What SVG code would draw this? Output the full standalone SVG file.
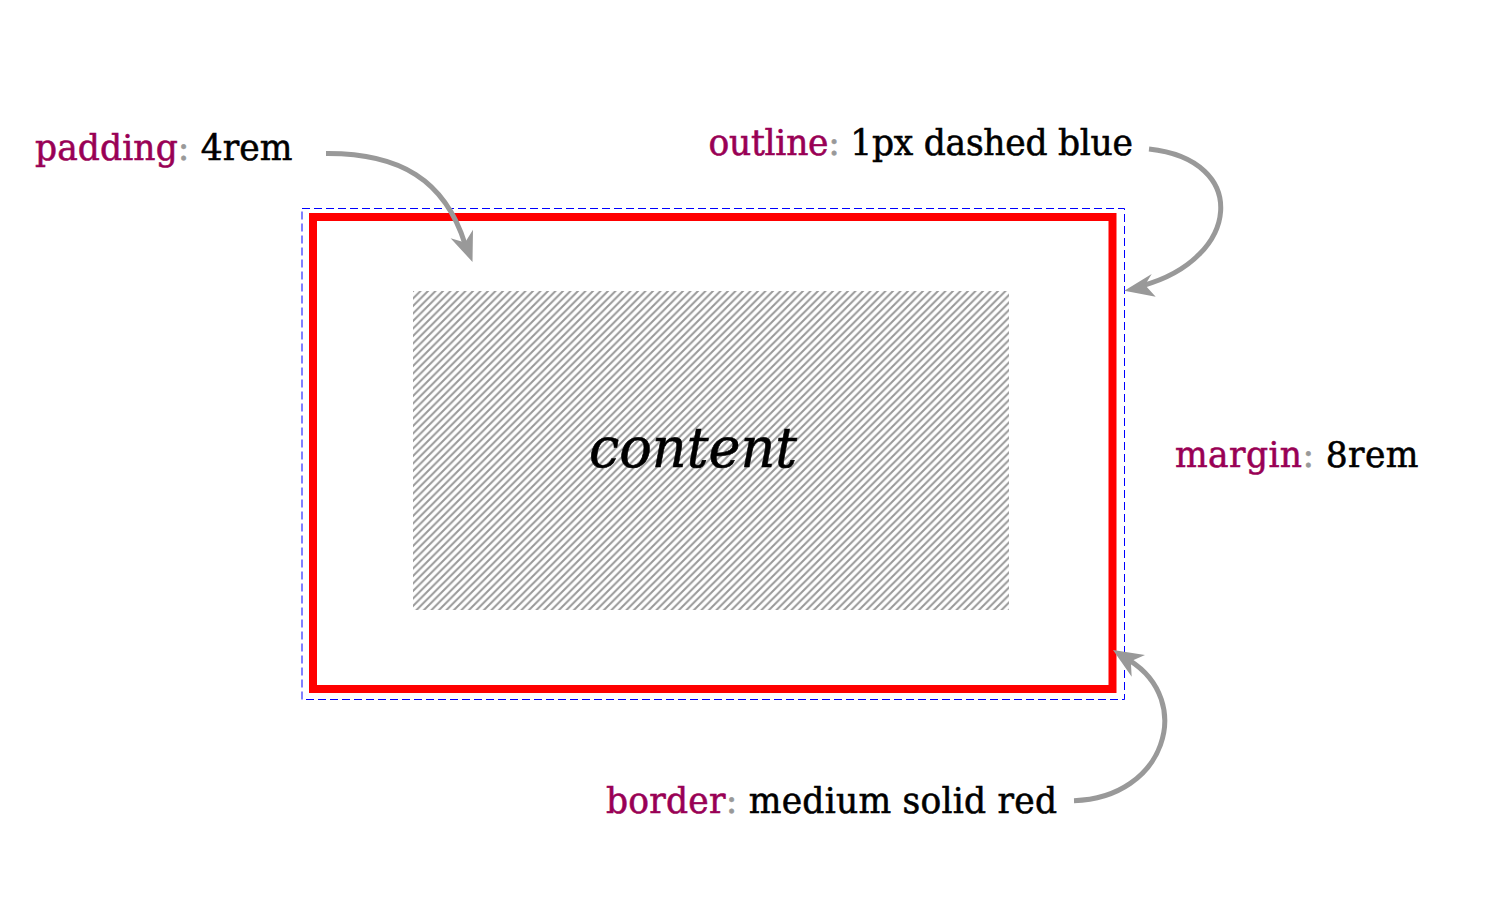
<svg xmlns="http://www.w3.org/2000/svg" width="1500" height="898" viewBox="0 0 1500 898">
<style>
.lbl{font-family:"DejaVu Serif","Liberation Serif",serif;font-size:34.5px;fill:#000;stroke:#000;stroke-width:0.55}
.prop{fill:#990055;stroke:#990055}
.punc{fill:#999999;stroke:#999999}
.arrow{fill:none;stroke:#999999;stroke-width:5;stroke-linecap:butt}
.head{fill:#999999;stroke:none}
</style>
<defs>
<pattern id="hatch" patternUnits="userSpaceOnUse" x="413" y="291" width="7.5" height="7.5">
<path d="M-1.875,1.875 L1.875,-1.875 M0,7.5 L7.5,0 M5.625,9.375 L9.375,5.625" stroke="#999999" stroke-width="2"/>
</pattern>
</defs>
<rect width="1500" height="898" fill="#ffffff"/>
<g id="content">
<rect x="413" y="291" width="596" height="319" fill="url(#hatch)"/>
<text x="589" y="467" font-family="DejaVu Serif, Liberation Serif, serif" font-style="italic" font-size="56" stroke="#000" stroke-width="0.6" textLength="208" lengthAdjust="spacingAndGlyphs">content</text>
</g>
<g id="outline">
<rect x="302" y="208.5" width="822.5" height="491" fill="none" stroke="#0000ff" stroke-width="1" stroke-dasharray="8 4"/>
</g>
<g id="border">
<rect x="313" y="217" width="799.5" height="472" fill="none" stroke="#ff0000" stroke-width="8"/>
</g>
<g id="label-padding">
<text class="lbl" x="35" y="159.5" textLength="257.5" lengthAdjust="spacing"><tspan class="prop">padding</tspan><tspan class="punc">:</tspan> 4rem</text>
</g>
<g id="label-outline">
<text class="lbl" x="708.5" y="154.5" textLength="424.5" lengthAdjust="spacing"><tspan class="prop">outline</tspan><tspan class="punc">:</tspan> 1px dashed blue</text>
</g>
<g id="label-margin">
<text class="lbl" x="1175" y="467" textLength="243.5" lengthAdjust="spacing"><tspan class="prop">margin</tspan><tspan class="punc">:</tspan> 8rem</text>
</g>
<g id="label-border">
<text class="lbl" x="606" y="812.5" textLength="451" lengthAdjust="spacing"><tspan class="prop">border</tspan><tspan class="punc">:</tspan> medium solid red</text>
</g>
<g id="connectors">
<path class="arrow" d="M326,153.5 C400,153 445,180 465,244"/>
<path class="head" d="M472.5,262 L450.6,238.2 L465,242.4 L473,229.7 Z"/>
<path class="arrow" d="M1149,149 C1250,160 1241,258 1143,285.5"/>
<path class="head" d="M1124.3,290.7 L1151.7,274 L1145,285 L1155.7,296.7 Z"/>
<path class="arrow" d="M1074,800.7 C1165,798 1195,701.6 1129.5,660.3"/>
<path class="head" d="M1113,650 L1145,655 L1130.8,661.2 L1131.7,676.7 Z"/>
</g>
</svg>
